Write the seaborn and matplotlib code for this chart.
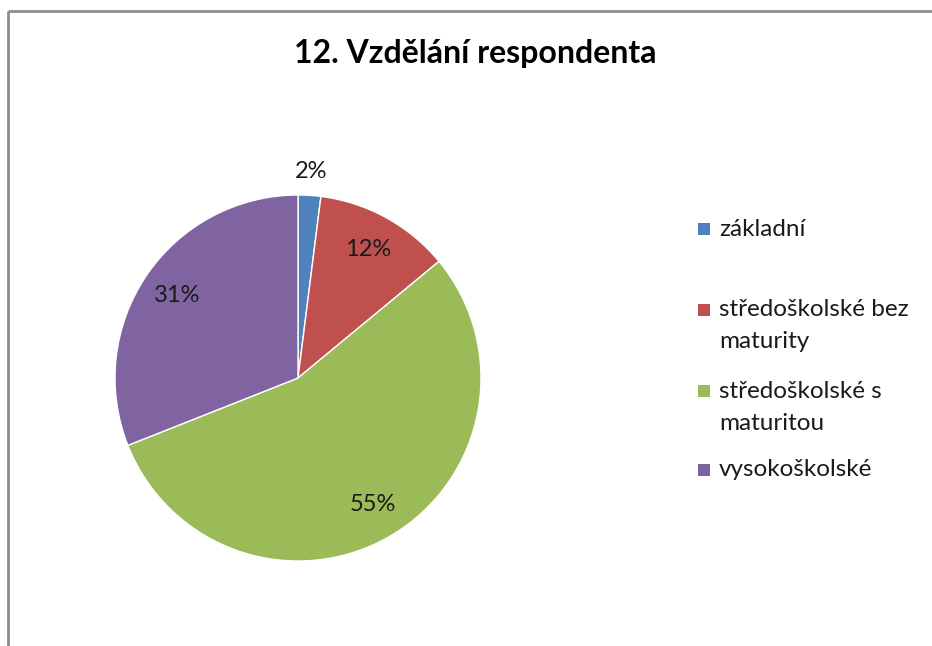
import matplotlib
matplotlib.use("Agg")
import matplotlib.pyplot as plt
import seaborn as sns
import numpy as np
from matplotlib.patches import Rectangle
from matplotlib.lines import Line2D

# data
categories = ["základní", "středoškolské bez maturity", "středoškolské s maturitou", "vysokoškolské"]
legend_labels = ["základní", "středoškolské bez\nmaturity", "středoškolské s\nmaturitou", "vysokoškolské"]
shares = [2, 12, 55, 31]
colors = ["#4F81BD", "#C0504D", "#9BBB59", "#8064A2"]
title = "12. Vzdělání respondenta"

sns.set_theme(style="white")
plt.rcParams["font.family"] = ["Lato", "DejaVu Sans"]

W, H = 932, 646
fig = plt.figure(figsize=(W / 100, H / 100), dpi=100)
fig.patch.set_facecolor("white")

# pie axes placed so that the pie sits where it does in the original
cx, cy, r = 298, 378, 183
ax = fig.add_axes([(cx - r) / W, (H - cy - r) / H, 2 * r / W, 2 * r / H])
wedges, texts, autotexts = ax.pie(
    shares, colors=colors, startangle=90, counterclock=False,
    autopct=lambda p: f"{p:.0f}%", pctdistance=0.8,
    wedgeprops=dict(edgecolor="white", linewidth=1),
    textprops=dict(fontsize=17, color="#1a1a1a"))
ax.set_xlim(-1, 1)
ax.set_ylim(-1, 1)

# the tiny slice gets its label outside the pie
w = wedges[0]
mid = np.deg2rad((w.theta1 + w.theta2) / 2)
autotexts[0].set_position((1.13 * np.cos(mid), 1.13 * np.sin(mid)))

fig.text(475 / W, 1 - 54 / H, title, ha="center", va="center",
         fontsize=23, fontweight="bold", color="black")

# legend drawn by hand (Excel style, markers on first line)
rows = [229, 310, 391, 470]
for lab, col, y in zip(legend_labels, colors, rows):
    fig.add_artist(Rectangle((698 / W, 1 - (y + 6) / H), 12 / W, 12 / H,
                             transform=fig.transFigure, facecolor=col, edgecolor="none"))
    for i, line in enumerate(lab.split("\n")):
        fig.text(719 / W, 1 - (y + 32 * i) / H, line, ha="left", va="center",
                 fontsize=17.5, color="#1a1a1a")

# chart area border (top and left visible)
fig.add_artist(Line2D([8 / W, 1.01], [1 - 11 / H, 1 - 11 / H], transform=fig.transFigure,
                      color="#8c8c8c", lw=2, solid_capstyle="butt"))
fig.add_artist(Line2D([8 / W, 8 / W], [-0.01, 1 - 11 / H], transform=fig.transFigure,
                      color="#8c8c8c", lw=2, solid_capstyle="butt"))

plt.savefig("out.png", dpi=100)
